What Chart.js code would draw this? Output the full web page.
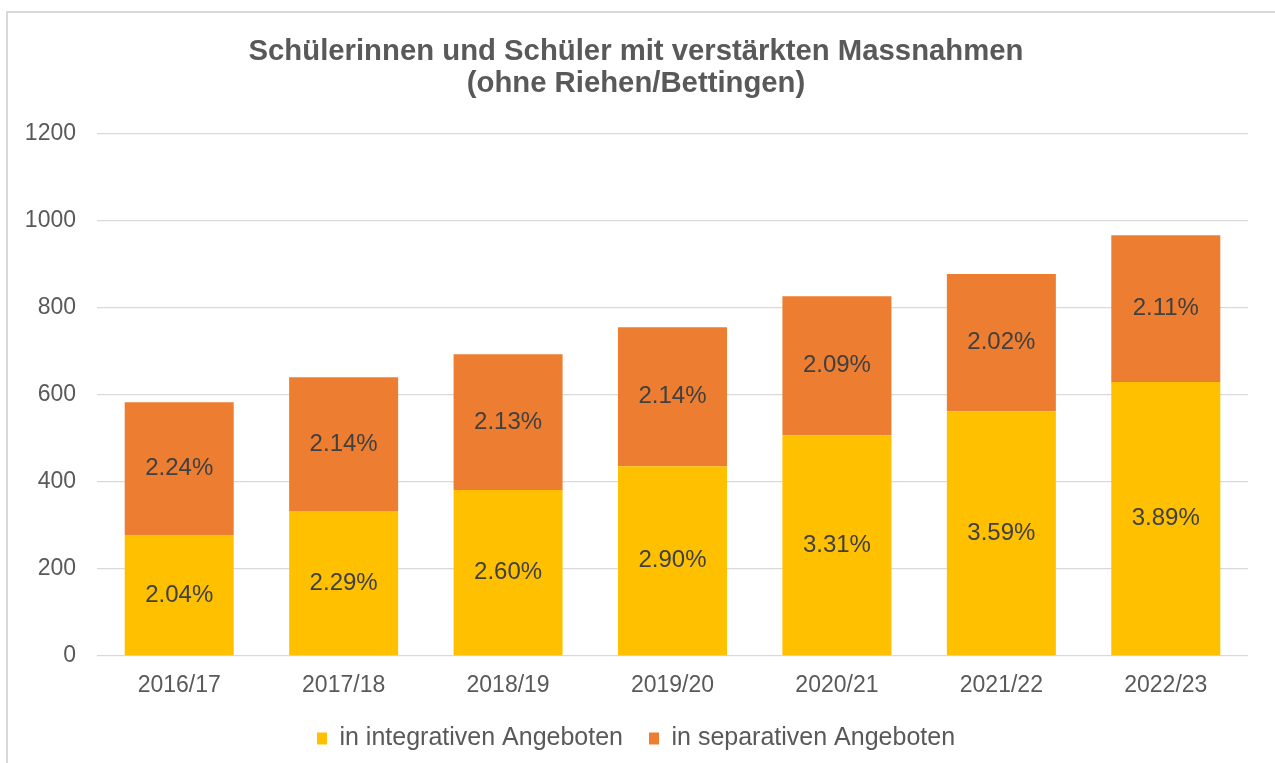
<!DOCTYPE html>
<html>
<head>
<meta charset="utf-8">
<script src="https://cdn.jsdelivr.net/npm/chart.js@4"></script>
<style>
  html, body { margin: 0; padding: 0; background: #fff; }
  #frame { position: absolute; left: 6px; top: 11px; width: 1275px; height: 763px; border: 2px solid #d9d9d9; box-sizing: border-box; }
  #wrap { position: absolute; left: 0; top: 0; width: 1275px; height: 763px; }
</style>
</head>
<body>
<div id="frame"></div>
<div id="wrap"><canvas id="chart1"></canvas></div>
<script>
// values
const years = ['2016/17', '2017/18', '2018/19', '2019/20', '2020/21', '2021/22', '2022/23'];
const integrativ = [278, 333, 381, 436, 507, 562, 629];
const separativ = [305, 307, 312, 319, 319, 315, 337];
const integrativPct = ['2.04%', '2.29%', '2.60%', '2.90%', '3.31%', '3.59%', '3.89%'];
const separativPct = ['2.24%', '2.14%', '2.13%', '2.14%', '2.09%', '2.02%', '2.11%'];

const font = 'Liberation Sans, Arial, sans-serif';

// draws the percentage text in the middle of each bar piece
const barLabels = {
    id: 'barLabels',
    afterDatasetsDraw(chart) {
        const ctx = chart.ctx;
        const texts = [integrativPct, separativPct];
        ctx.save();
        ctx.font = '24px ' + font;
        ctx.fillStyle = '#404040';
        ctx.textAlign = 'center';
        ctx.textBaseline = 'middle';
        chart.data.datasets.forEach(function(ds, i) {
            chart.getDatasetMeta(i).data.forEach(function(bar, j) {
                const mid = (bar.y + bar.base) / 2;
                ctx.fillText(texts[i][j], bar.x, mid);
            });
        });
        ctx.restore();
    }
};

document.addEventListener("DOMContentLoaded", function() {
    const ctx1 = document.getElementById('chart1').getContext('2d');
    new Chart(ctx1, {
        type: 'bar',
        data: {
            labels: years,
            datasets: [{
                label: 'in integrativen Angeboten',
                data: integrativ,
                backgroundColor: '#FFC000'
            }, {
                label: 'in separativen Angeboten',
                data: separativ,
                backgroundColor: '#ED7D31'
            }]
        },
        options: {
            responsive: true,
            maintainAspectRatio: false,
            animation: false,
            layout: { padding: { left: 24, right: 27, top: 0, bottom: 2 } },
            datasets: { bar: { categoryPercentage: 1, barPercentage: 0.663 } },
            plugins: {
                title: {
                    display: true,
                    text: ['Schülerinnen und Schüler mit verstärkten Massnahmen', '(ohne Riehen/Bettingen)'],
                    color: '#595959',
                    font: { family: font, size: 29.3, weight: 'bold', lineHeight: 1.1 },
                    padding: { top: 36, bottom: 33 }
                },
                legend: {
                    position: 'bottom',
                    labels: {
                        color: '#595959',
                        font: { family: font, size: 25 },
                        boxWidth: 10,
                        boxHeight: 12,
                        padding: 26
                    }
                },
                tooltip: { enabled: false }
            },
            scales: {
                x: {
                    stacked: true,
                    // padding is counted twice by default, keep it once
                    afterFit: function(scale) { scale.height = 16 + 28; },
                    grid: { display: false, drawTicks: false },
                    border: { display: false },
                    ticks: { color: '#595959', font: { family: font, size: 23 }, padding: 16 }
                },
                y: {
                    stacked: true,
                    min: 0,
                    max: 1200,
                    afterFit: function(scale) { scale.width = 73; },
                    grid: { color: '#d9d9d9', lineWidth: 1.3, drawTicks: false },
                    border: { display: false },
                    ticks: {
                        stepSize: 200,
                        color: '#595959',
                        font: { family: font, size: 23 },
                        padding: 21,
                        callback: function(value) { return String(value); }
                    }
                }
            }
        },
        plugins: [barLabels]
    });
});
</script>
</body>
</html>
